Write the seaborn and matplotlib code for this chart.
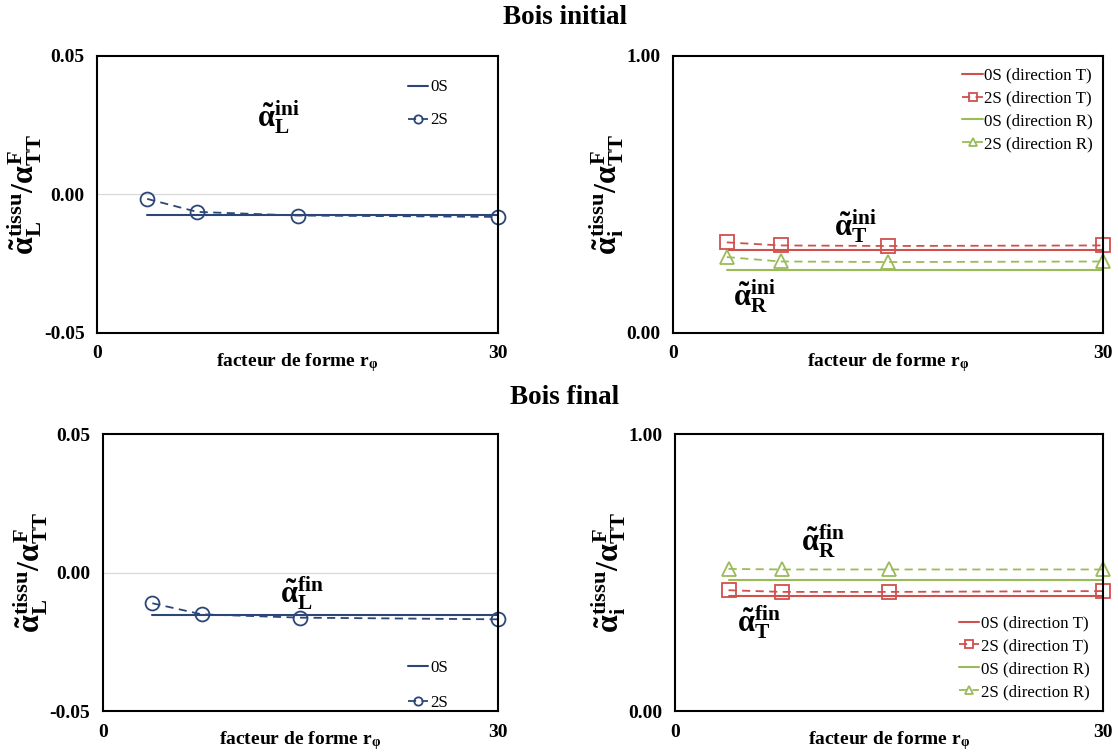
import numpy as np
import pandas as pd
import matplotlib
matplotlib.use("Agg")
import matplotlib.pyplot as plt
import seaborn as sns

sns.set_theme(style="white")
plt.rcParams['font.family'] = ['Liberation Serif', 'DejaVu Serif']
plt.rcParams['mathtext.fontset'] = 'custom'
plt.rcParams['mathtext.rm'] = 'Liberation Serif:bold'
plt.rcParams['mathtext.it'] = 'Liberation Serif:bold'
plt.rcParams['mathtext.bf'] = 'Liberation Serif:bold'
plt.rcParams['text.color'] = 'black'
plt.rcParams['axes.labelcolor'] = 'black'
plt.rcParams['xtick.color'] = 'black'
plt.rcParams['ytick.color'] = 'black'

# ---------------- data ----------------
r_phi = [3.75, 7.5, 15, 30]

# Bois initial
ini_L_0S = [-0.0073, -0.0073, -0.0073, -0.0073]
ini_L_2S = [-0.0016, -0.0063, -0.0076, -0.0081]
ini_T_0S = [0.300, 0.300, 0.300, 0.300]
ini_T_2S = [0.327, 0.316, 0.314, 0.316]
ini_R_0S = [0.226, 0.226, 0.226, 0.226]
ini_R_2S = [0.274, 0.258, 0.256, 0.258]

# Bois final
fin_L_0S = [-0.0152, -0.0152, -0.0152, -0.0152]
fin_L_2S = [-0.0111, -0.0151, -0.0163, -0.0169]
fin_T_0S = [0.416, 0.416, 0.416, 0.416]
fin_T_2S = [0.436, 0.430, 0.430, 0.433]
fin_R_0S = [0.472, 0.472, 0.472, 0.472]
fin_R_2S = [0.513, 0.511, 0.511, 0.511]

titles = ["Bois initial", "Bois final"]
xlabel = r"facteur de forme r$_{\mathbf{\varphi}}$"
ylabel_L = r"$\tilde{\alpha}_{L}^{tissu}/\alpha_{TT}^{F}$"
ylabel_i = r"$\tilde{\alpha}_{i}^{tissu}/\alpha_{TT}^{F}$"

BLUE = "#2B4677"
RED = "#D0504E"
GREEN = "#9BBB59"

fig = plt.figure(figsize=(11.18, 7.54), dpi=100)
ax_tl = fig.add_axes([0.0868, 0.5584, 0.3587, 0.3674])
ax_tr = fig.add_axes([0.6020, 0.5584, 0.3846, 0.3674])
ax_bl = fig.add_axes([0.0921, 0.0570, 0.3533, 0.3674])
ax_br = fig.add_axes([0.6038, 0.0570, 0.3828, 0.3674])

TICKFS = 14
LEGFS = 12.2
ANNFS = 22
YLFS = 23


def style_axis(ax, kind):
    ax.set_xlim(0, 30)
    ax.set_xticks([0, 30])
    ax.set_xticks([5, 10, 15, 20, 25], minor=True)
    if kind == "L":
        ax.set_ylim(-0.05, 0.05)
        ax.set_yticks([-0.05, 0.0, 0.05])
        ax.set_yticklabels(["-0.05", "0.00", "0.05"])
        ax.set_yticks([-0.03, -0.01, 0.01, 0.03], minor=True)
        ax.axhline(0, color="#D9D9D9", lw=0.9, zorder=0)
        ax.set_ylabel(ylabel_L, fontsize=YLFS, labelpad=0)
    else:
        ax.set_ylim(0, 1)
        ax.set_yticks([0.0, 1.0])
        ax.set_yticklabels(["0.00", "1.00"])
        ax.set_yticks([0.2, 0.4, 0.6, 0.8], minor=True)
        ax.set_ylabel(ylabel_i, fontsize=YLFS, labelpad=0)
    ax.tick_params(axis="both", which="both", direction="in", color="black")
    ax.tick_params(axis="both", which="major", length=0, labelsize=TICKFS)
    ax.tick_params(axis="both", which="minor", length=5, width=1.0)
    ax.tick_params(axis="x", which="major", pad=9)
    ax.tick_params(axis="y", which="major", pad=9)
    for lab in ax.get_xticklabels() + ax.get_yticklabels():
        lab.set_fontweight("bold")
    for s in ax.spines.values():
        s.set_color("black")
        s.set_linewidth(1.5)
    ax.set_xlabel(xlabel, fontsize=14, fontweight="bold", labelpad=-8)
    ax.grid(False)


def plot_series(ax, y, color, label, marker=None, ms=10):
    df = pd.DataFrame({"x": r_phi, "y": y})
    if marker is None:
        sns.lineplot(data=df, x="x", y="y", ax=ax, color=color, lw=1.5,
                     label=label, sort=False)
    else:
        sns.lineplot(data=df, x="x", y="y", ax=ax, color=color, lw=1.3,
                     linestyle=(0, (4.5, 3)), marker=marker, markersize=ms,
                     markerfacecolor="none", markeredgecolor=color,
                     markeredgewidth=1.3, label=label, sort=False,
                     clip_on=False)


LEGKW = dict(frameon=False, fontsize=LEGFS, handlelength=1.2,
             handletextpad=0.1, markerscale=0.6, borderpad=0,
             borderaxespad=0)

# ---- top-left ----
plot_series(ax_tl, ini_L_0S, BLUE, "0S")
plot_series(ax_tl, ini_L_2S, BLUE, "2S", marker="o")
style_axis(ax_tl, "L")
ax_tl.text(13.6, 0.028, r"$\tilde{\alpha}_{L}^{ini}$", fontsize=ANNFS,
           ha="center", va="center")
ax_tl.legend(loc="upper right", bbox_to_anchor=(0.875, 0.915),
             labelspacing=1.0, **LEGKW)

# ---- top-right ----
plot_series(ax_tr, ini_T_0S, RED, "0S (direction T)")
plot_series(ax_tr, ini_T_2S, RED, "2S (direction T)", marker="s")
plot_series(ax_tr, ini_R_0S, GREEN, "0S (direction R)")
plot_series(ax_tr, ini_R_2S, GREEN, "2S (direction R)", marker="^")
style_axis(ax_tr, "i")
ax_tr.text(12.7, 0.385, r"$\tilde{\alpha}_{T}^{ini}$", fontsize=ANNFS,
           ha="center", va="center")
ax_tr.text(5.7, 0.135, r"$\tilde{\alpha}_{R}^{ini}$", fontsize=ANNFS,
           ha="center", va="center")
ax_tr.legend(loc="upper right", bbox_to_anchor=(0.977, 0.957),
             labelspacing=0.4, **LEGKW)

# ---- bottom-left ----
plot_series(ax_bl, fin_L_0S, BLUE, "0S")
plot_series(ax_bl, fin_L_2S, BLUE, "2S", marker="o")
style_axis(ax_bl, "L")
ax_bl.text(15.1, -0.0075, r"$\tilde{\alpha}_{L}^{fin}$", fontsize=ANNFS,
           ha="center", va="center")
ax_bl.legend(loc="lower right", bbox_to_anchor=(0.873, 0.0),
             labelspacing=1.1, **LEGKW)

# ---- bottom-right ----
plot_series(ax_br, fin_T_0S, RED, "0S (direction T)")
plot_series(ax_br, fin_T_2S, RED, "2S (direction T)", marker="s")
plot_series(ax_br, fin_R_0S, GREEN, "0S (direction R)")
plot_series(ax_br, fin_R_2S, GREEN, "2S (direction R)", marker="^")
style_axis(ax_br, "i")
ax_br.text(10.4, 0.615, r"$\tilde{\alpha}_{R}^{fin}$", fontsize=ANNFS,
           ha="center", va="center")
ax_br.text(5.9, 0.32, r"$\tilde{\alpha}_{T}^{fin}$", fontsize=ANNFS,
           ha="center", va="center")
ax_br.legend(loc="lower right", bbox_to_anchor=(0.968, 0.04),
             labelspacing=0.4, **LEGKW)

fig.text(565 / 1118, 1 - 18 / 754, titles[0], ha="center", va="center",
         fontsize=19.5, fontweight="bold")
fig.text(565 / 1118, 1 - 397 / 754, titles[1], ha="center", va="center",
         fontsize=19.5, fontweight="bold")

fig.savefig("out.png", dpi=100)
